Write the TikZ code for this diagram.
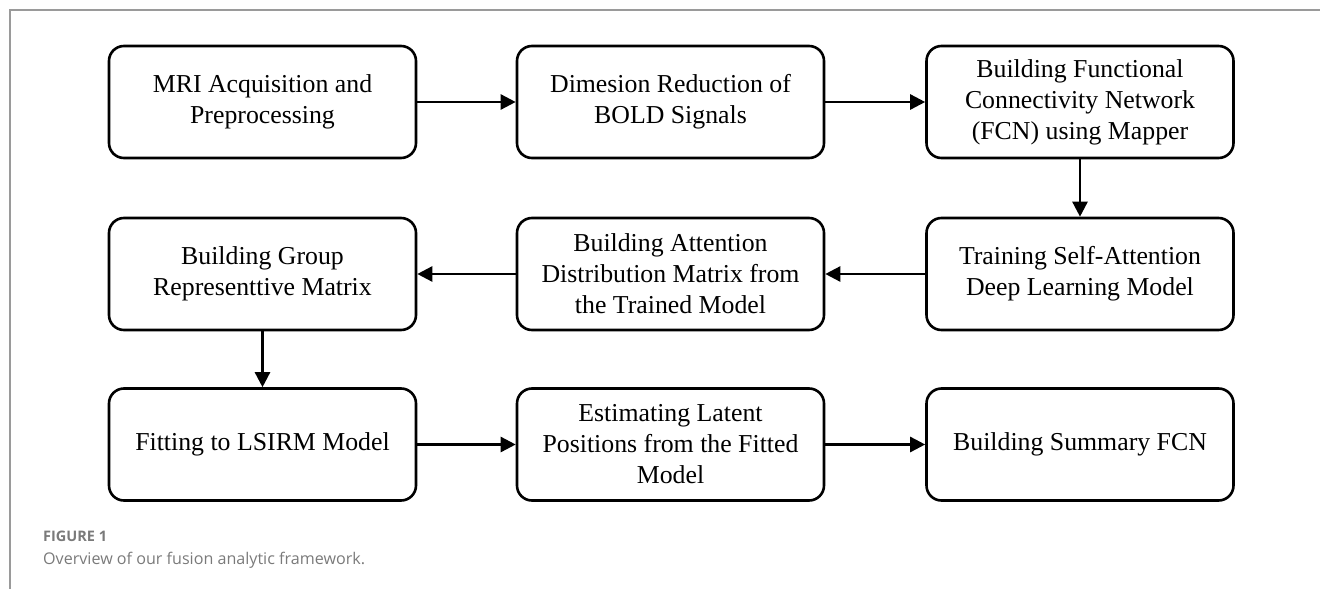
\documentclass[tikz,border=0pt]{standalone}
\usepackage{fontspec}
\setmainfont{Liberation Serif}
\newfontfamily\capfont{Open Sans}
\usetikzlibrary{arrows.meta}
\definecolor{framegray}{HTML}{9A9A9A}
\definecolor{capgray}{HTML}{7A7A7A}
\begin{document}
\begin{tikzpicture}[x=1pt,y=-1pt,
  proc/.style={draw=black, line width=2.6pt, rounded corners=15pt,
    minimum width=307pt, minimum height=112pt, align=center, inner sep=0pt,
    font=\fontsize{25.8}{31}\selectfont},
  conn/.style={line width=2.5pt, -{Triangle[length=15pt,width=15pt]}},
  frameline/.style={draw=framegray, line width=1.5pt},
  capstyle/.style={anchor=base west, inner sep=0pt, text=capgray}]
\useasboundingbox (0,0) rectangle (1320,589);
\draw[frameline] (10,589) -- (10,10) -- (1320,10);

\node[proc] (a1) at (262.5,102) {MRI Acquisition and\\Preprocessing};
\node[proc] (a2) at (670.5,102) {Dimesion Reduction of\\BOLD Signals};
\node[proc] (a3) at (1080,102) {Building Functional\\Connectivity Network\\(FCN) using Mapper};

\node[proc] (b1) at (262.5,274) {Building Group\\Representtive Matrix};
\node[proc] (b2) at (670.5,274) {Building Attention\\Distribution Matrix from\\the Trained Model};
\node[proc] (b3) at (1080,274) {Training Self-Attention\\Deep Learning Model};

\node[proc] (c1) at (262.5,444.5) {Fitting to LSIRM Model};
\node[proc] (c2) at (670.5,444.5) {Estimating Latent\\Positions from the Fitted\\Model};
\node[proc] (c3) at (1080,444.5) {Building Summary FCN};

\draw[conn] (a1) -- (a2);
\draw[conn] (a2) -- (a3);
\draw[conn] (a3) -- (b3);
\draw[conn] (b3) -- (b2);
\draw[conn] (b2) -- (b1);
\draw[conn] (b1) -- (c1);
\draw[conn] (c1) -- (c2);
\draw[conn] (c2) -- (c3);

\node[capstyle, font=\capfont\bfseries\fontsize{14.5}{17}\selectfont] (fig) at (43,541) {FIGURE 1};
\node[capstyle, font=\capfont\fontsize{16.1}{19}\selectfont] (cap) at (43,564) {Overview of our fusion analytic framework.};
\end{tikzpicture}
\end{document}
